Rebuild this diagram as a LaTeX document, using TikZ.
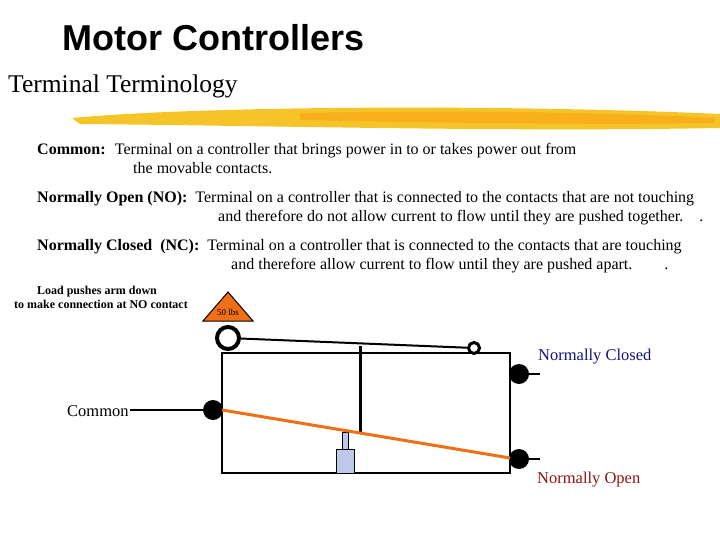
\documentclass[tikz,border=0pt]{standalone}
\usepackage{fontspec}
\setmainfont{Liberation Serif}
\newfontfamily\hdr{Liberation Sans}
\definecolor{brush}{RGB}{245,196,40}
\definecolor{ncblue}{RGB}{20,20,120}
\definecolor{nored}{RGB}{140,20,20}
\definecolor{wt}{RGB}{240,110,20}
\definecolor{plung}{RGB}{190,200,235}
\begin{document}
\begin{tikzpicture}[x=1pt,y=-1pt,
  txt/.style={anchor=north west,inner sep=0pt,font=\fontsize{16}{19}\selectfont,align=left},
  dot/.style={circle,fill=black,minimum size=20pt,inner sep=0pt},
  wire/.style={line width=1.5pt}]
\useasboundingbox (0,0) rectangle (720,540);
\node[anchor=west,inner sep=0pt,font=\hdr\bfseries\fontsize{36}{38}\selectfont] (title) at (62,38) {Motor Controllers};
\node[anchor=west,inner sep=0pt,font=\fontsize{25.5}{27}\selectfont] (sub) at (8,86) {Terminal Terminology};
\fill[brush] (72,118) .. controls (200,106) and (500,104) .. (720,114) -- (720,128) .. controls (500,132) and (300,126) .. (80,124) -- cycle;
\fill[brush!70!orange] (300,113) .. controls (450,110) and (600,112) .. (715,118) -- (715,123) .. controls (600,125) and (450,123) .. (300,120) -- cycle;
\node[txt] (t1) at (37,143) {\textbf{Common:} \ Terminal on a controller that brings power in to or takes power out from\\\hspace*{96pt}the movable contacts.};
\node[txt] (t2) at (37,191) {\textbf{Normally Open (NO):} \ Terminal on a controller that is connected to the contacts that are not touching\\\hspace*{181pt}and therefore do not allow current to flow until they are pushed together.\quad.};
\node[txt] (t3) at (37,239) {\textbf{Normally Closed \ (NC):} \ Terminal on a controller that is connected to the contacts that are touching\\\hspace*{194pt}and therefore allow current to flow until they are pushed apart.\qquad.};
\node[anchor=north,inner sep=0pt,font=\bfseries\fontsize{12}{14}\selectfont,align=center] (load) at (97,286) {Load pushes arm down\\\hspace*{8pt}to make connection at NO contact};
% box
\draw[wire] (222,353) rectangle (510,473);
% plunger
\draw[line width=1pt,fill=plung] (342,432) rectangle (348,449);
\draw[line width=1pt,fill=plung] (336,449) rectangle (354,473);
% lever
\node[circle,draw,line width=4pt,minimum size=22pt,inner sep=0pt,fill=white] (piv) at (228,338) {};
\node[circle,draw,line width=3pt,minimum size=11pt,inner sep=0pt,fill=white] (tip) at (474,348) {};
\draw[line width=2pt] (piv) -- (tip);
\coordinate (rodtop) at (360,346);
\coordinate (rodbot) at (360,434);
\draw[line width=3pt] (rodtop) -- (rodbot);
% weight
\draw[line width=1pt,fill=wt] (228,292) -- (253,321) -- (203,321) -- cycle;
\node[font=\fontsize{9}{10}\selectfont,inner sep=0pt] (w) at (228,312) {50 lbs};
% contacts
\node[dot] (com) at (213,410) {};
\node[dot] (nc) at (519,374) {};
\node[dot] (no) at (519,459) {};
\coordinate (coml) at (130,410);
\draw[wire] (coml) -- (com);
\coordinate (ncr) at (540,374); \draw[wire] (nc) -- (ncr);
\coordinate (nor) at (540,459); \draw[wire] (no) -- (nor);
\draw[wt,line width=3pt] (222,410) -- (510,458);
\node[anchor=west,inner sep=0pt,font=\fontsize{16.5}{18}\selectfont,text=ncblue] (ncl) at (538,357) {Normally Closed};
\node[anchor=west,inner sep=0pt,font=\fontsize{16.5}{18}\selectfont,text=nored] (nol) at (537,480) {Normally Open};
\node[anchor=west,inner sep=0pt,font=\fontsize{16.5}{18}\selectfont] (coml2) at (67,411) {Common};
\end{tikzpicture}
\end{document}
